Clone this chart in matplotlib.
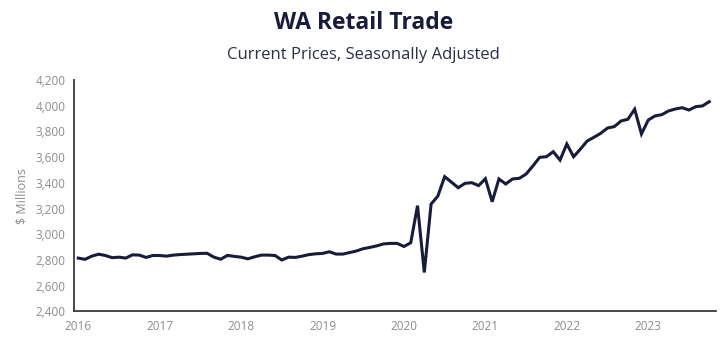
#!/usr/bin/env python3

import matplotlib.pyplot as plt
import numpy as np

# monthly turnover, $ millions, Jan 2016 - Oct 2023
v2016 = [2815, 2805, 2830, 2845, 2835, 2818, 2822, 2815, 2840, 2838, 2820, 2835]
v2017 = [2835, 2830, 2838, 2842, 2845, 2848, 2851, 2852, 2822, 2806, 2836, 2828]
v2018 = [2822, 2809, 2825, 2838, 2838, 2835, 2800, 2822, 2820, 2830, 2842, 2848]
v2019 = [2851, 2864, 2846, 2846, 2858, 2870, 2888, 2898, 2910, 2925, 2929, 2929]
v2020 = [2905, 2934, 3222, 2703, 3235, 3297, 3448, 3405, 3362, 3396, 3401, 3378]
v2021 = [3432, 3253, 3430, 3391, 3430, 3435, 3468, 3531, 3598, 3603, 3642, 3577]
v2022 = [3702, 3603, 3662, 3725, 3754, 3785, 3826, 3837, 3881, 3894, 3972, 3780]
v2023 = [3888, 3920, 3930, 3959, 3974, 3984, 3966, 3992, 3998, 4031]

years = [2016, 2017, 2018, 2019, 2020, 2021, 2022, 2023]
yticks = [2400, 2600, 2800, 3000, 3200, 3400, 3600, 3800, 4000, 4200]

navy = "#171c3a"
grey = "#8c8c8c"


def _main():
    plt.rcParams['font.family'] = ['Open Sans', 'DejaVu Sans']
    values = v2016 + v2017 + v2018 + v2019 + v2020 + v2021 + v2022 + v2023
    x = 2016 + np.arange(len(values)) / 12

    fig = plt.figure(figsize=(7.27, 3.43), dpi=100)
    ax = fig.add_axes([0.102, 0.092, 0.883, 0.675])
    ax.plot(x, values, color=navy, lw=2.2, solid_joinstyle='miter')

    ax.set_xlim(2016 - 0.6 / 12, 2016 + 94 / 12)
    ax.set_ylim(2400, 4200)
    ax.set_xticks(years)
    ax.set_xticklabels([str(y) for y in years])
    ax.set_yticks(yticks)
    ax.set_yticklabels([f"{t:,}" for t in yticks])
    ax.tick_params(length=0, labelsize=8.5, colors=grey, pad=6)
    for s in ("top", "right"):
        ax.spines[s].set_visible(False)
    for s in ("left", "bottom"):
        ax.spines[s].set_color("#3a3a3a")
        ax.spines[s].set_linewidth(1.3)
    ax.set_ylabel("$ Millions", color=grey, fontsize=9, labelpad=5)

    fig.text(0.5, 0.932, "WA Retail Trade", ha='center', va='center',
             fontsize=16.5, fontweight='bold', color=navy)
    fig.text(0.5, 0.84, "Current Prices, Seasonally Adjusted", ha='center',
             va='center', fontsize=12, color="#2a2f45")

    fig.savefig("out.png", dpi=100)


if __name__ == '__main__':
    _main()
